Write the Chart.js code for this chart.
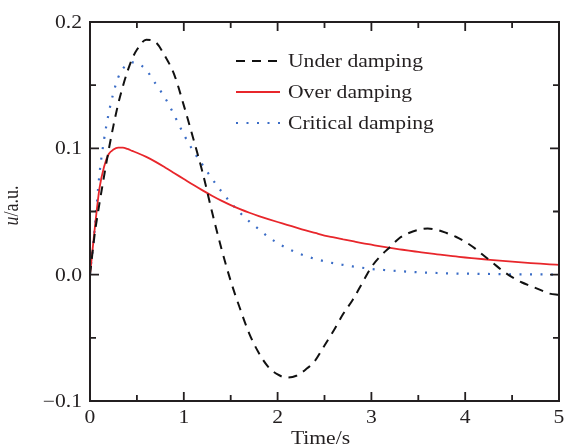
<!DOCTYPE html>
<html>
<head>
<meta charset="utf-8">
<script src="https://cdn.jsdelivr.net/npm/chart.js@4.4.0/dist/chart.umd.min.js"></script>
<style>
  html, body { margin: 0; padding: 0; background: #fff; }
</style>
</head>
<body>
<canvas id="myChart" width="565" height="446"></canvas>
<script>
const times = [0, 0.05, 0.1, 0.15, 0.2, 0.25, 0.3, 0.35, 0.4, 0.45, 0.5,
  0.6, 0.7, 0.8, 0.9, 1.0, 1.1, 1.2, 1.3, 1.4, 1.5, 1.6, 1.7, 1.8, 1.9, 2.0,
  2.1, 2.2, 2.3, 2.4, 2.5, 2.6, 2.7, 2.8, 2.9, 3.0, 3.1, 3.2, 3.3, 3.4, 3.5,
  3.6, 3.7, 3.8, 3.9, 4.0, 4.1, 4.2, 4.3, 4.4, 4.5, 4.6, 4.7, 4.8, 4.9, 5.0];

const underDamping = [0, 0.032, 0.056, 0.078, 0.099, 0.118, 0.135, 0.149, 0.161, 0.171, 0.178,
  0.186, 0.184, 0.173, 0.158, 0.134, 0.108, 0.081, 0.050, 0.021, -0.005, -0.027, -0.047, -0.062, -0.073, -0.079,
  -0.0815, -0.080, -0.075, -0.068, -0.056, -0.044, -0.031, -0.020, -0.007, 0.006, 0.015, 0.022, 0.029, 0.033, 0.0355,
  0.0365, 0.0355, 0.033, 0.030, 0.026, 0.021, 0.015, 0.009, 0.003, -0.002, -0.006, -0.009, -0.012, -0.015, -0.016];

const overDamping = [0, 0.036, 0.068, 0.0855, 0.0955, 0.099, 0.1005, 0.1005, 0.0995, 0.098, 0.0965,
  0.0932, 0.0893, 0.0849, 0.0803, 0.0757, 0.0711, 0.0667, 0.0625, 0.0586, 0.0551, 0.0519, 0.049, 0.0464, 0.044, 0.0417,
  0.0395, 0.0372, 0.035, 0.033, 0.031, 0.0295, 0.028, 0.0265, 0.025, 0.0237, 0.0224, 0.0212, 0.0201, 0.019, 0.018,
  0.017, 0.0161, 0.0152, 0.0144, 0.0136, 0.0129, 0.0122, 0.0115, 0.0109, 0.0103, 0.0097, 0.0092, 0.0087, 0.0082, 0.0078];

const criticalDamping = [0, 0.036, 0.079, 0.107, 0.128, 0.144, 0.156, 0.163, 0.166, 0.168, 0.1675,
  0.162, 0.151, 0.140, 0.126, 0.111, 0.098, 0.087, 0.076, 0.066, 0.057, 0.049, 0.042, 0.036, 0.030, 0.025,
  0.021, 0.0176, 0.0148, 0.0125, 0.0106, 0.009, 0.0077, 0.0065, 0.0055, 0.0045, 0.0039, 0.0033, 0.0028, 0.0023, 0.0019,
  0.0016, 0.0013, 0.0011, 0.0009, 0.0008, 0.0007, 0.0006, 0.0005, 0.0004, 0.0003, 0.0003, 0.0002, 0.0002, 0.0001, 0.0001];

const seriesLabels = ['Under damping', 'Over damping', 'Critical damping'];
const xTicks = [0, 1, 2, 3, 4, 5];
const xTickLabels = ['0', '1', '2', '3', '4', '5'];
const yTicks = [-0.1, 0, 0.1, 0.2];
const yTickLabels = ['\u22120.1', '0.0', '0.1', '0.2'];

const ink = '#231f20';
const serif = '"Liberation Serif", "Times New Roman", serif';
const stretch = 1.2; // the source figure is a little wider than tall

const toPoints = values => times.map((t, i) => ({x: t, y: values[i]}));

// text drawn a bit wide, like the source
const wideText = (ctx, str, x, y, align, font) => {
  ctx.save();
  ctx.font = font;
  ctx.translate(x, y);
  ctx.scale(stretch, 1);
  ctx.textAlign = align;
  ctx.textBaseline = 'alphabetic';
  ctx.fillText(str, 0, 0);
  ctx.restore();
};

const midpoints = arr => arr.slice(1).map((v, i) => (v + arr[i]) / 2);

const frameAndText = {
  id: 'frameAndText',
  afterDatasetsDraw(chart) {
    const {ctx, chartArea: a, scales: {x, y}} = chart;
    ctx.save();
    ctx.fillStyle = ink;
    ctx.strokeStyle = ink;
    ctx.lineWidth = 2;
    ctx.strokeRect(a.left, a.top, a.right - a.left, a.bottom - a.top);

    // inward ticks on all four sides
    ctx.lineWidth = 1.8;
    const tickX = (v, len) => {
      const px = x.getPixelForValue(v);
      ctx.beginPath();
      ctx.moveTo(px, a.bottom); ctx.lineTo(px, a.bottom - len);
      ctx.moveTo(px, a.top); ctx.lineTo(px, a.top + len);
      ctx.stroke();
    };
    const tickY = (v, len) => {
      const py = y.getPixelForValue(v);
      ctx.beginPath();
      ctx.moveTo(a.left, py); ctx.lineTo(a.left + len, py);
      ctx.moveTo(a.right, py); ctx.lineTo(a.right - len, py);
      ctx.stroke();
    };
    xTicks.forEach(v => tickX(v, 9));
    midpoints(xTicks).forEach(v => tickX(v, 6));
    yTicks.forEach(v => tickY(v, 9));
    midpoints(yTicks).forEach(v => tickY(v, 6));

    const font = '18px ' + serif;
    xTicks.forEach((v, i) => wideText(ctx, xTickLabels[i], x.getPixelForValue(v), a.bottom + 22, 'center', font));
    yTicks.forEach((v, i) => wideText(ctx, yTickLabels[i], a.left - 8, y.getPixelForValue(v) + 6, 'right', font));

    // axis titles
    wideText(ctx, 'Time/s', (a.left + a.right) / 2 - 4, 444, 'center', font);
    ctx.save();
    ctx.translate(18, (a.top + a.bottom) / 2 - 6);
    ctx.scale(stretch, 1);
    ctx.rotate(-Math.PI / 2);
    ctx.textBaseline = 'alphabetic';
    ctx.textAlign = 'left';
    ctx.font = 'italic 18px ' + serif;
    const wu = ctx.measureText('u').width;
    ctx.font = font;
    const wr = ctx.measureText('/a.u.').width;
    const start = -(wu + wr) / 2;
    ctx.font = 'italic 18px ' + serif;
    ctx.fillText('u', start, 0);
    ctx.font = font;
    ctx.fillText('/a.u.', start + wu, 0);
    ctx.restore();

    // legend inside the plot
    chart.data.datasets.forEach((ds, i) => {
      const base = 67 + i * 31;
      ctx.save();
      ctx.strokeStyle = ds.borderColor;
      ctx.lineWidth = ds.borderWidth;
      ctx.setLineDash(ds.borderDash || []);
      ctx.beginPath();
      ctx.moveTo(236, base - 6);
      ctx.lineTo(280, base - 6);
      ctx.stroke();
      ctx.restore();
      wideText(ctx, seriesLabels[i], 288, base, 'left', font);
    });
    ctx.restore();
  }
};

const chart = new Chart(document.getElementById('myChart').getContext('2d'), {
  type: 'line',
  data: {
    datasets: [
      {
        label: seriesLabels[0],
        data: toPoints(underDamping),
        borderColor: '#111111',
        borderWidth: 2,
        borderDash: [9, 7]
      },
      {
        label: seriesLabels[1],
        data: toPoints(overDamping),
        borderColor: '#e8262b',
        borderWidth: 1.8
      },
      {
        label: seriesLabels[2],
        data: toPoints(criticalDamping),
        borderColor: '#3a6cc6',
        borderWidth: 2.2,
        borderDash: [2, 8.5]
      }
    ]
  },
  options: {
    responsive: false,
    animation: false,
    devicePixelRatio: 1,
    layout: {padding: {top: 22, right: 6, left: 0, bottom: 0}},
    elements: {
      point: {radius: 0},
      line: {cubicInterpolationMode: 'monotone', fill: false}
    },
    plugins: {legend: {display: false}, tooltip: {enabled: false}},
    scales: {
      x: {
        type: 'linear', min: 0, max: 5,
        grid: {display: false, drawTicks: false},
        border: {display: false},
        ticks: {display: false},
        afterFit: s => { s.height = 45; }
      },
      y: {
        type: 'linear', min: -0.1, max: 0.2,
        grid: {display: false, drawTicks: false},
        border: {display: false},
        ticks: {display: false},
        afterFit: s => { s.width = 90; }
      }
    }
  },
  plugins: [frameAndText]
});
</script>
</body>
</html>
